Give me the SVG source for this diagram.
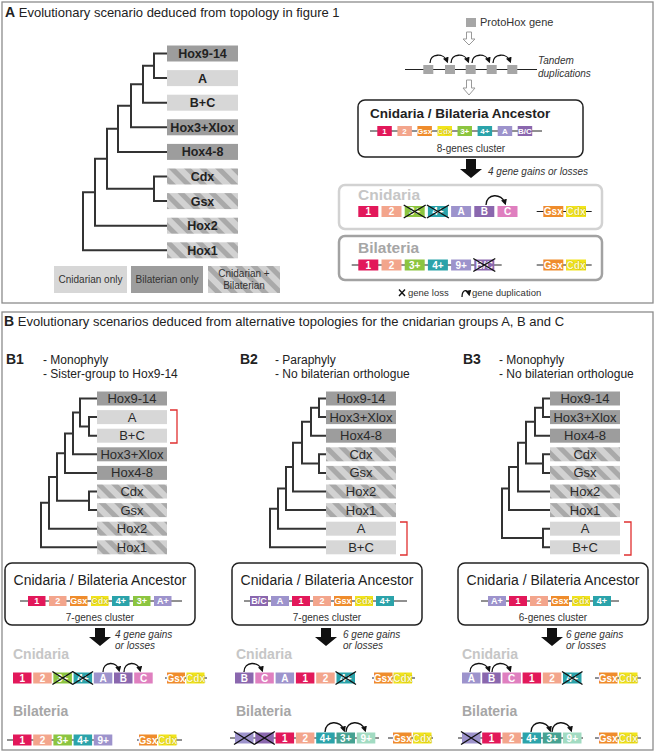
<svg xmlns="http://www.w3.org/2000/svg" width="656" height="753" viewBox="0 0 656 753">
<style>
text{font-family:"Liberation Sans",Arial,sans-serif}
.panel{fill:none;stroke:#8c8c8c;stroke-width:1.3}
.ttl{font-size:13px;fill:#222}
.tl{fill:none;stroke:#333;stroke-width:2}
.dk{fill:#9d9d9d}.lt{fill:#d7d7d7}.sp{fill:url(#st)}
.ta{font-size:12.5px;font-weight:bold;fill:#222;text-anchor:middle}
.tb{font-size:13px;fill:#2a2a2a;text-anchor:middle}
.lg{font-size:10px;fill:#333;text-anchor:middle}
.gt{fill:#fff;font-weight:bold;text-anchor:middle;font-size:10px}
.gs{font-size:8px}.gb{font-size:9px}
.cx{fill:#fffbc8;stroke:#a89500;stroke-width:0.5;paint-order:stroke}
.k1{fill:#e2185a}.k2{fill:#f3a58c}.kg{fill:#ef8c2c}.kc{fill:#f1e41c}.k3{fill:#8cc540}.k4{fill:#2ba3aa}.ka{fill:#9d93cc}.kb{fill:#8a67ae}.kC{fill:#df7fbf}.k3b{fill:#46a292}.k9b{fill:#a2dbc2}
.ln{stroke:#222;stroke-width:1}
.x{stroke:#111;stroke-width:1.4}
.arc{fill:none;stroke:#111;stroke-width:1.3;marker-end:url(#ah)}
.abox{fill:#fff;stroke:#222;stroke-width:1.5}
.big{fill:#111}
.hol{fill:#fff;stroke:#999;stroke-width:1}
.it{font-size:10px;font-style:italic;fill:#333}
.sm{font-size:10px;fill:#333;text-anchor:middle}
.cn{font-weight:bold;fill:#c6c6c6}
.bi{font-weight:bold;fill:#a6a6a6}
.br{fill:none;stroke:#e03030;stroke-width:1.3}
.sub{font-size:12px;fill:#222}
.lab{font-size:14px;font-weight:bold;fill:#222}
</style>
<defs>
<pattern id="st" patternUnits="userSpaceOnUse" width="11" height="11" patternTransform="rotate(-45)">
<rect width="11" height="11" fill="#d2d2d2"/><rect width="5" height="11" fill="#a9a9a9"/>
</pattern>
<marker id="ah" viewBox="0 0 10 10" refX="6" refY="5" markerWidth="6" markerHeight="6" orient="auto" markerUnits="userSpaceOnUse"><path d="M0,0 L10,5 L0,10 z" fill="#111"/></marker>
</defs>
<rect width="656" height="753" fill="#fff"/>

<!-- Panel A -->
<rect class="panel" x="2" y="2" width="651" height="301"/>
<text class="ttl" x="5" y="17"><tspan font-weight="bold" font-size="14">A</tspan> Evolutionary scenario deduced from topology in figure 1</text>

<g id="connectors">
<g id="treeA">
<path class="tl" d="M167,53.5 H154 V78.1 H167 M154,65.8 H143 V102.7 H167 M143,84.25 H131 V127.3 H167 M131,105.8 H118 V151.9 H167 M167,176.5 H154 V201.1 H167 M118,128.85 H107 V188.8 H154 M107,158.8 H95 V225.7 H167 M95,192.25 H83 V250.3 H167"/>
</g>
<g id="treeB1">
<path class="tl" d="M97,417.1 H89 V435.7 H97 M97,398.5 H80 V426.4 H89 M80,412.45 H73 V454.3 H97 M73,433.4 H65 V472.9 H97 M97,491.5 H89 V510.1 H97 M65,453.15 H57 V500.8 H89 M57,477 H49 V528.7 H97 M49,502.85 H41 V547.3 H97"/>
</g>
<g id="treeB2">
<path class="tl" d="M326,398.5 H319 V417.1 H326 M319,407.8 H311 V435.7 H326 M326,454.3 H319 V472.9 H326 M311,421.75 H302 V463.6 H319 M302,442.7 H293 V491.5 H326 M293,467.1 H286 V510.1 H326 M286,488.6 H278 V528.7 H326 M278,508.65 H270 V547.3 H326"/>
</g>
<g id="treeB3">
<path class="tl" d="M550,398.5 H543 V417.1 H550 M543,407.8 H535 V435.7 H550 M550,454.3 H543 V472.9 H550 M535,421.75 H526 V463.6 H543 M526,442.7 H518 V491.5 H550 M518,467.1 H509 V510.1 H550 M550,528.7 H543 V547.3 H550 M509,488.6 H502 V538 H543"/>
</g>
<g id="arrows">
<polygon class="hol" points="466.5,32 471.5,32 471.5,39 475,39 469,45 463,39 466.5,39"/>
<polygon class="hol" points="466.5,80 471.5,80 471.5,88 475,88 469,95 463,88 466.5,88"/>
<polygon class="big" points="466,159 476,159 476,169 482,169 471,178 460,169 466,169"/>
<polygon class="big" points="95,628 105,628 105,637 111,637 100,646 89,637 95,637"/>
<polygon class="big" points="321,628 331,628 331,637 337,637 326,646 315,637 321,637"/>
<polygon class="big" points="547,628 557,628 557,637 563,637 552,646 541,637 547,637"/>
</g>
</g>

<g id="nodesA">
<g id="a-hox9"><rect class="dk" x="167" y="45.5" width="71" height="16"/><text class="ta" x="202.5" y="58">Hox9-14</text></g>
<g id="a-A"><rect class="lt" x="167" y="70.1" width="71" height="16"/><text class="ta" x="202.5" y="82.6">A</text></g>
<g id="a-BC"><rect class="lt" x="167" y="94.7" width="71" height="16"/><text class="ta" x="202.5" y="107.2">B+C</text></g>
<g id="a-hox3"><rect class="dk" x="167" y="119.3" width="71" height="16"/><text class="ta" x="202.5" y="131.8">Hox3+Xlox</text></g>
<g id="a-hox4"><rect class="dk" x="167" y="143.9" width="71" height="16"/><text class="ta" x="202.5" y="156.4">Hox4-8</text></g>
<g id="a-cdx"><rect class="sp" x="167" y="168.5" width="71" height="16"/><text class="ta" x="202.5" y="181">Cdx</text></g>
<g id="a-gsx"><rect class="sp" x="167" y="193.1" width="71" height="16"/><text class="ta" x="202.5" y="205.6">Gsx</text></g>
<g id="a-hox2"><rect class="sp" x="167" y="217.7" width="71" height="16"/><text class="ta" x="202.5" y="230.2">Hox2</text></g>
<g id="a-hox1"><rect class="sp" x="167" y="242.3" width="71" height="16"/><text class="ta" x="202.5" y="254.8">Hox1</text></g>
</g>

<g id="legendA">
<rect class="lt" x="54" y="266" width="73" height="27"/><text class="lg" x="90.5" y="283">Cnidarian only</text>
<rect class="dk" x="131" y="266" width="72" height="27"/><text class="lg" x="167" y="283">Bilaterian only</text>
<rect class="sp" x="208" y="266" width="72" height="27"/><text class="lg" x="244" y="277">Cnidarian +</text><text class="lg" x="244" y="289">Bilaterian</text>
</g>

<g id="protohox">
<rect x="466" y="18" width="10" height="9" fill="#a6a6a6"/>
<text x="480" y="26" font-size="11" fill="#333">ProtoHox gene</text>
<line class="ln" x1="405" y1="69.5" x2="537" y2="69.5"/>
<rect x="423.3" y="65" width="10" height="9" fill="#a6a6a6"/>
<rect x="445" y="65" width="10" height="9" fill="#a6a6a6"/>
<rect x="465.7" y="65" width="10" height="9" fill="#a6a6a6"/>
<rect x="486.7" y="65" width="10" height="9" fill="#a6a6a6"/>
<rect x="507.3" y="65" width="10" height="9" fill="#a6a6a6"/>
<path class="arc" d="M430,63 C430,53 444,53 447,61"/>
<path class="arc" d="M451,63 C451,53 465,53 468,61"/>
<path class="arc" d="M472,63 C472,53 486,53 489,61"/>
<path class="arc" d="M493,63 C493,53 507,53 510,61"/>
<text class="it" x="538" y="64" font-size="11">Tandem</text>
<text class="it" x="538" y="77" font-size="11">duplications</text>
</g>

<g id="a-ancestor">
<rect class="abox" x="358" y="100" width="225" height="57" rx="7"/>
<text x="370" y="118" font-size="13.5" font-weight="bold" fill="#222">Cnidaria / Bilateria Ancestor</text>
<line class="ln" x1="370" y1="131" x2="542" y2="131"/>
<rect class="k1" x="377.3" y="126" width="14.5" height="10"/><text class="gt gs" x="384.5" y="134">1</text>
<rect class="k2" x="397.4" y="126" width="14.5" height="10"/><text class="gt gs" x="404.6" y="134">2</text>
<rect class="kg" x="417.4" y="126" width="14.5" height="10"/><text class="gt gs" x="424.6" y="134">Gsx</text>
<rect class="kc" x="437.5" y="126" width="14.5" height="10"/><text class="gt gs cx" x="444.7" y="134">Cdx</text>
<rect class="k3" x="457.5" y="126" width="14.5" height="10"/><text class="gt gs" x="464.7" y="134">3+</text>
<rect class="k4" x="477.6" y="126" width="14.5" height="10"/><text class="gt gs" x="484.8" y="134">4+</text>
<rect class="ka" x="497.7" y="126" width="14.5" height="10"/><text class="gt gs" x="504.9" y="134">A</text>
<rect class="kb" x="517.7" y="126" width="14.5" height="10"/><text class="gt gs" x="524.9" y="134">B/C</text>
<text class="sm" x="471" y="152">8-genes cluster</text>
</g>
<text class="it" x="488" y="175">4 gene gains or losses</text>

<g id="a-cnidaria">
<rect x="339" y="185" width="263" height="44" rx="6" fill="none" stroke="#d2d2d2" stroke-width="2.5"/>
<text class="cn" x="358" y="200" font-size="15.5">Cnidaria</text>
<rect class="k1" x="358.3" y="206" width="20" height="11"/><text class="gt" x="368.3" y="215">1</text>
<rect class="k2" x="381.5" y="206" width="20" height="11"/><text class="gt" x="391.5" y="215">2</text>
<rect class="k3" x="404.7" y="206" width="20" height="11"/><text class="gt" x="414.7" y="215">3+</text>
<rect class="k4" x="427.9" y="206" width="20" height="11"/><text class="gt" x="437.9" y="215">4+</text>
<rect class="ka" x="451.1" y="206" width="20" height="11"/><text class="gt" x="461.1" y="215">A</text>
<rect class="kb" x="474.3" y="206" width="20" height="11"/><text class="gt" x="484.3" y="215">B</text>
<rect class="kC" x="497.5" y="206" width="20" height="11"/><text class="gt" x="507.5" y="215">C</text>
<path class="x" d="M403.7,205 L425.7,218 M425.7,205 L403.7,218 M426.9,205 L448.9,218 M448.9,205 L426.9,218"/>
<path class="arc" d="M486,205 C486,193 502,193 505,203"/>
<line class="ln" x1="536.7" y1="211.5" x2="591.7" y2="211.5"/>
<rect class="kg" x="543.3" y="206" width="20" height="11"/><text class="gt" x="553.3" y="215">Gsx</text>
<rect class="kc" x="566" y="206" width="20" height="11"/><text class="gt cx" x="576" y="215">Cdx</text>
</g>

<g id="a-bilateria">
<rect x="339" y="236" width="263" height="44" rx="6" fill="none" stroke="#a2a2a2" stroke-width="2.5"/>
<text class="bi" x="358" y="253" font-size="15.5">Bilateria</text>
<line class="ln" x1="351.7" y1="265" x2="501.7" y2="265"/>
<rect class="k1" x="358.3" y="259.5" width="20" height="11"/><text class="gt" x="368.3" y="268.5">1</text>
<rect class="k2" x="381.5" y="259.5" width="20" height="11"/><text class="gt" x="391.5" y="268.5">2</text>
<rect class="k3" x="404.7" y="259.5" width="20" height="11"/><text class="gt" x="414.7" y="268.5">3+</text>
<rect class="k4" x="427.9" y="259.5" width="20" height="11"/><text class="gt" x="437.9" y="268.5">4+</text>
<rect class="ka" x="451.1" y="259.5" width="20" height="11"/><text class="gt" x="461.1" y="268.5">9+</text>
<rect class="kb" x="474.3" y="259.5" width="20" height="11"/><text class="gt" x="484.3" y="268.5">B/C</text>
<path class="x" d="M473.3,258.5 L495.3,271.5 M495.3,258.5 L473.3,271.5"/>
<line class="ln" x1="536.7" y1="265" x2="591.7" y2="265"/>
<rect class="kg" x="543.3" y="259.5" width="20" height="11"/><text class="gt" x="553.3" y="268.5">Gsx</text>
<rect class="kc" x="566" y="259.5" width="20" height="11"/><text class="gt cx" x="576" y="268.5">Cdx</text>
</g>

<g id="a-legend2">
<path class="x" d="M399,289.5 L405,296 M405,289.5 L399,296"/>
<text x="408" y="296" font-size="9.5" fill="#333">gene loss</text>
<path class="arc" d="M462,297 C462,289 468,289 469,294"/>
<text x="472" y="296" font-size="9.5" fill="#333">gene duplication</text>
</g>

<!-- Panel B -->
<rect class="panel" x="2" y="312" width="651" height="438"/>
<text class="ttl" x="4" y="326"><tspan font-weight="bold" font-size="14">B</tspan> Evolutionary scenarios deduced from alternative topologies for the cnidarian groups A, B and C</text>

<text class="lab" x="6" y="364">B1</text>
<text class="sub" x="43" y="364">- Monophyly</text>
<text class="sub" x="43" y="378">- Sister-group to Hox9-14</text>
<text class="lab" x="240" y="364">B2</text>
<text class="sub" x="275" y="364">- Paraphyly</text>
<text class="sub" x="275" y="378">- No bilaterian orthologue</text>
<text class="lab" x="463" y="364">B3</text>
<text class="sub" x="499" y="364">- Monophyly</text>
<text class="sub" x="499" y="378">- No bilaterian orthologue</text>

<g id="nodesB1">
<g id="b1-hox9"><rect class="dk" x="97" y="391.5" width="70" height="14"/><text class="tb" x="132" y="403">Hox9-14</text></g>
<g id="b1-A"><rect class="lt" x="97" y="410.1" width="70" height="14"/><text class="tb" x="132" y="421.6">A</text></g>
<g id="b1-BC"><rect class="lt" x="97" y="428.7" width="70" height="14"/><text class="tb" x="132" y="440.2">B+C</text></g>
<g id="b1-hox3"><rect class="dk" x="97" y="447.3" width="70" height="14"/><text class="tb" x="132" y="458.8">Hox3+Xlox</text></g>
<g id="b1-hox4"><rect class="dk" x="97" y="465.9" width="70" height="14"/><text class="tb" x="132" y="477.4">Hox4-8</text></g>
<g id="b1-cdx"><rect class="sp" x="97" y="484.5" width="70" height="14"/><text class="tb" x="132" y="496">Cdx</text></g>
<g id="b1-gsx"><rect class="sp" x="97" y="503.1" width="70" height="14"/><text class="tb" x="132" y="514.6">Gsx</text></g>
<g id="b1-hox2"><rect class="sp" x="97" y="521.7" width="70" height="14"/><text class="tb" x="132" y="533.2">Hox2</text></g>
<g id="b1-hox1"><rect class="sp" x="97" y="540.3" width="70" height="14"/><text class="tb" x="132" y="551.8">Hox1</text></g>
<path class="br" d="M170,410 H177 V443 H170"/>
</g>

<g id="nodesB2">
<g id="b2-hox9"><rect class="dk" x="326" y="391.5" width="70" height="14"/><text class="tb" x="361" y="403">Hox9-14</text></g>
<g id="b2-hox3"><rect class="dk" x="326" y="410.1" width="70" height="14"/><text class="tb" x="361" y="421.6">Hox3+Xlox</text></g>
<g id="b2-hox4"><rect class="dk" x="326" y="428.7" width="70" height="14"/><text class="tb" x="361" y="440.2">Hox4-8</text></g>
<g id="b2-cdx"><rect class="sp" x="326" y="447.3" width="70" height="14"/><text class="tb" x="361" y="458.8">Cdx</text></g>
<g id="b2-gsx"><rect class="sp" x="326" y="465.9" width="70" height="14"/><text class="tb" x="361" y="477.4">Gsx</text></g>
<g id="b2-hox2"><rect class="sp" x="326" y="484.5" width="70" height="14"/><text class="tb" x="361" y="496">Hox2</text></g>
<g id="b2-hox1"><rect class="sp" x="326" y="503.1" width="70" height="14"/><text class="tb" x="361" y="514.6">Hox1</text></g>
<g id="b2-A"><rect class="lt" x="326" y="521.7" width="70" height="14"/><text class="tb" x="361" y="533.2">A</text></g>
<g id="b2-BC"><rect class="lt" x="326" y="540.3" width="70" height="14"/><text class="tb" x="361" y="551.8">B+C</text></g>
<path class="br" d="M400,522 H407 V555 H400"/>
</g>

<g id="nodesB3">
<g id="b3-hox9"><rect class="dk" x="550" y="391.5" width="70" height="14"/><text class="tb" x="585" y="403">Hox9-14</text></g>
<g id="b3-hox3"><rect class="dk" x="550" y="410.1" width="70" height="14"/><text class="tb" x="585" y="421.6">Hox3+Xlox</text></g>
<g id="b3-hox4"><rect class="dk" x="550" y="428.7" width="70" height="14"/><text class="tb" x="585" y="440.2">Hox4-8</text></g>
<g id="b3-cdx"><rect class="sp" x="550" y="447.3" width="70" height="14"/><text class="tb" x="585" y="458.8">Cdx</text></g>
<g id="b3-gsx"><rect class="sp" x="550" y="465.9" width="70" height="14"/><text class="tb" x="585" y="477.4">Gsx</text></g>
<g id="b3-hox2"><rect class="sp" x="550" y="484.5" width="70" height="14"/><text class="tb" x="585" y="496">Hox2</text></g>
<g id="b3-hox1"><rect class="sp" x="550" y="503.1" width="70" height="14"/><text class="tb" x="585" y="514.6">Hox1</text></g>
<g id="b3-A"><rect class="lt" x="550" y="521.7" width="70" height="14"/><text class="tb" x="585" y="533.2">A</text></g>
<g id="b3-BC"><rect class="lt" x="550" y="540.3" width="70" height="14"/><text class="tb" x="585" y="551.8">B+C</text></g>
<path class="br" d="M624,522 H631 V555 H624"/>
</g>

<!-- B1 scenario -->
<g id="b1-ancestor">
<rect class="abox" x="5" y="563" width="190" height="62" rx="7"/>
<text x="100" y="585" font-size="14" fill="#222" text-anchor="middle">Cnidaria / Bilateria Ancestor</text>
<line class="ln" x1="20" y1="601" x2="182" y2="601"/>
<rect class="k1" x="28" y="596" width="17.5" height="10"/><text class="gt gb" x="36.8" y="604.3">1</text>
<rect class="k2" x="49" y="596" width="17.5" height="10"/><text class="gt gb" x="57.8" y="604.3">2</text>
<rect class="kg" x="70" y="596" width="17.5" height="10"/><text class="gt gb" x="78.8" y="604.3">Gsx</text>
<rect class="kc" x="91" y="596" width="17.5" height="10"/><text class="gt gb cx" x="99.8" y="604.3">Cdx</text>
<rect class="k4" x="112" y="596" width="17.5" height="10"/><text class="gt gb" x="120.8" y="604.3">4+</text>
<rect class="k3" x="133" y="596" width="17.5" height="10"/><text class="gt gb" x="141.8" y="604.3">3+</text>
<rect class="ka" x="154" y="596" width="17.5" height="10"/><text class="gt gb" x="162.8" y="604.3">A+</text>
<text class="sm" x="100" y="621">7-genes cluster</text>
</g>
<text class="it" x="115" y="638">4 gene gains</text>
<text class="it" x="115" y="649">or losses</text>
<g id="b1-cnidaria">
<text class="cn" x="13" y="659" font-size="14">Cnidaria</text>
<rect class="k1" x="13" y="672.5" width="18.5" height="11"/><text class="gt" x="22.3" y="681.5">1</text>
<rect class="k2" x="33.2" y="672.5" width="18.5" height="11"/><text class="gt" x="42.5" y="681.5">2</text>
<rect class="k3" x="53.4" y="672.5" width="18.5" height="11"/><text class="gt" x="62.7" y="681.5">3+</text>
<rect class="k4" x="73.6" y="672.5" width="18.5" height="11"/><text class="gt" x="82.9" y="681.5">4+</text>
<rect class="ka" x="93.8" y="672.5" width="18.5" height="11"/><text class="gt" x="103.1" y="681.5">A</text>
<rect class="kb" x="114" y="672.5" width="18.5" height="11"/><text class="gt" x="123.3" y="681.5">B</text>
<rect class="kC" x="134.2" y="672.5" width="18.5" height="11"/><text class="gt" x="143.5" y="681.5">C</text>
<path class="x" d="M52.4,671.5 L72.9,684.5 M72.9,671.5 L52.4,684.5 M72.6,671.5 L93.1,684.5 M93.1,671.5 L72.6,684.5"/>
<path class="arc" d="M103,672 C103,661 117,661 119,670"/>
<path class="arc" d="M124,672 C124,661 138,661 140,670"/>
<line class="ln" x1="165" y1="678" x2="207" y2="678"/>
<rect class="kg" x="167" y="672.5" width="18" height="11"/><text class="gt" x="176" y="681.5">Gsx</text>
<rect class="kc" x="186.5" y="672.5" width="18" height="11"/><text class="gt cx" x="195.5" y="681.5">Cdx</text>
</g>
<g id="b1-bilateria">
<text class="bi" x="13" y="716" font-size="14">Bilateria</text>
<line class="ln" x1="7" y1="740" x2="110" y2="740"/>
<rect class="k1" x="13" y="734.5" width="18.5" height="11"/><text class="gt" x="22.3" y="743.5">1</text>
<rect class="k2" x="33.2" y="734.5" width="18.5" height="11"/><text class="gt" x="42.5" y="743.5">2</text>
<rect class="k3" x="53.4" y="734.5" width="18.5" height="11"/><text class="gt" x="62.7" y="743.5">3+</text>
<rect class="k4" x="73.6" y="734.5" width="18.5" height="11"/><text class="gt" x="82.9" y="743.5">4+</text>
<rect class="ka" x="93.8" y="734.5" width="18.5" height="11"/><text class="gt" x="103.1" y="743.5">9+</text>
<line class="ln" x1="137" y1="740" x2="182" y2="740"/>
<rect class="kg" x="139" y="734.5" width="18" height="11"/><text class="gt" x="148" y="743.5">Gsx</text>
<rect class="kc" x="158.5" y="734.5" width="18" height="11"/><text class="gt cx" x="167.5" y="743.5">Cdx</text>
</g>

<!-- B2 scenario -->
<g id="b2-ancestor">
<rect class="abox" x="232" y="563" width="190" height="62" rx="7"/>
<text x="327" y="585" font-size="14" fill="#222" text-anchor="middle">Cnidaria / Bilateria Ancestor</text>
<line class="ln" x1="244" y1="601" x2="407" y2="601"/>
<rect class="kb" x="250" y="596" width="18" height="10"/><text class="gt gb" x="259" y="604.3">B/C</text>
<rect class="ka" x="271" y="596" width="18" height="10"/><text class="gt gb" x="280" y="604.3">A</text>
<rect class="k1" x="292" y="596" width="18" height="10"/><text class="gt gb" x="301" y="604.3">1</text>
<rect class="k2" x="313" y="596" width="18" height="10"/><text class="gt gb" x="322" y="604.3">2</text>
<rect class="kg" x="334" y="596" width="18" height="10"/><text class="gt gb" x="343" y="604.3">Gsx</text>
<rect class="kc" x="355" y="596" width="18" height="10"/><text class="gt gb cx" x="364" y="604.3">Cdx</text>
<rect class="k4" x="376" y="596" width="18" height="10"/><text class="gt gb" x="385" y="604.3">4+</text>
<text class="sm" x="327" y="621">7-genes cluster</text>
</g>
<text class="it" x="343" y="638">6 gene gains</text>
<text class="it" x="343" y="649">or losses</text>
<g id="b2-cnidaria">
<text class="cn" x="236" y="659" font-size="14">Cnidaria</text>
<rect class="kb" x="235" y="672.5" width="18.5" height="11"/><text class="gt" x="244.3" y="681.5">B</text>
<rect class="kC" x="255.3" y="672.5" width="18.5" height="11"/><text class="gt" x="264.6" y="681.5">C</text>
<rect class="ka" x="275.6" y="672.5" width="18.5" height="11"/><text class="gt" x="284.9" y="681.5">A</text>
<rect class="k1" x="295.9" y="672.5" width="18.5" height="11"/><text class="gt" x="305.2" y="681.5">1</text>
<rect class="k2" x="316.2" y="672.5" width="18.5" height="11"/><text class="gt" x="325.5" y="681.5">2</text>
<rect class="k4" x="336.5" y="672.5" width="18.5" height="11"/><text class="gt" x="345.8" y="681.5">4+</text>
<path class="x" d="M335.5,671.5 L356,684.5 M356,671.5 L335.5,684.5"/>
<path class="arc" d="M244,672 C244,661 259,661 262,670"/>
<line class="ln" x1="372" y1="678" x2="415" y2="678"/>
<rect class="kg" x="374" y="672.5" width="18.5" height="11"/><text class="gt" x="383.3" y="681.5">Gsx</text>
<rect class="kc" x="393.5" y="672.5" width="18.5" height="11"/><text class="gt cx" x="402.8" y="681.5">Cdx</text>
</g>
<g id="b2-bilateria">
<text class="bi" x="236" y="716" font-size="14">Bilateria</text>
<line class="ln" x1="230" y1="738" x2="379" y2="738"/>
<rect class="ka" x="235" y="732.5" width="18.5" height="11"/>
<rect class="kb" x="255.3" y="732.5" width="18.5" height="11"/>
<path class="x" d="M234,731.5 L254.5,744.5 M254.5,731.5 L234,744.5 M254.3,731.5 L274.8,744.5 M274.8,731.5 L254.3,744.5"/>
<rect class="k1" x="275.6" y="732.5" width="18.5" height="11"/><text class="gt" x="284.9" y="741.5">1</text>
<rect class="k2" x="295.9" y="732.5" width="18.5" height="11"/><text class="gt" x="305.2" y="741.5">2</text>
<rect class="k4" x="316.2" y="732.5" width="18.5" height="11"/><text class="gt" x="325.5" y="741.5">4+</text>
<rect class="k3b" x="336.5" y="732.5" width="18.5" height="11"/><text class="gt" x="345.8" y="741.5">3+</text>
<rect class="k9b" x="356.8" y="732.5" width="18.5" height="11"/><text class="gt" x="366.1" y="741.5">9+</text>
<path class="arc" d="M325,732 C325,720 341,720 344,730"/>
<path class="arc" d="M346,732 C346,720 362,720 365,730"/>
<line class="ln" x1="388" y1="738" x2="433" y2="738"/>
<rect class="kg" x="393" y="732.5" width="18.5" height="11"/><text class="gt" x="402.3" y="741.5">Gsx</text>
<rect class="kc" x="413" y="732.5" width="18.5" height="11"/><text class="gt cx" x="422.3" y="741.5">Cdx</text>
</g>

<!-- B3 scenario -->
<g id="b3-ancestor">
<rect class="abox" x="458" y="563" width="190" height="62" rx="7"/>
<text x="553" y="585" font-size="14" fill="#222" text-anchor="middle">Cnidaria / Bilateria Ancestor</text>
<line class="ln" x1="481" y1="601" x2="619" y2="601"/>
<rect class="ka" x="488" y="596" width="18" height="10"/><text class="gt gb" x="497" y="604.3">A+</text>
<rect class="k1" x="509" y="596" width="18" height="10"/><text class="gt gb" x="518" y="604.3">1</text>
<rect class="k2" x="530" y="596" width="18" height="10"/><text class="gt gb" x="539" y="604.3">2</text>
<rect class="kg" x="551" y="596" width="18" height="10"/><text class="gt gb" x="560" y="604.3">Gsx</text>
<rect class="kc" x="572" y="596" width="18" height="10"/><text class="gt gb cx" x="581" y="604.3">Cdx</text>
<rect class="k4" x="593" y="596" width="18" height="10"/><text class="gt gb" x="602" y="604.3">4+</text>
<text class="sm" x="553" y="621">6-genes cluster</text>
</g>
<text class="it" x="566" y="638">6 gene gains</text>
<text class="it" x="566" y="649">or losses</text>
<g id="b3-cnidaria">
<text class="cn" x="462" y="659" font-size="14">Cnidaria</text>
<rect class="ka" x="462" y="672.5" width="18.5" height="11"/><text class="gt" x="471.3" y="681.5">A</text>
<rect class="kb" x="482.2" y="672.5" width="18.5" height="11"/><text class="gt" x="491.5" y="681.5">B</text>
<rect class="kC" x="502.4" y="672.5" width="18.5" height="11"/><text class="gt" x="511.7" y="681.5">C</text>
<rect class="k1" x="522.6" y="672.5" width="18.5" height="11"/><text class="gt" x="531.9" y="681.5">1</text>
<rect class="k2" x="542.8" y="672.5" width="18.5" height="11"/><text class="gt" x="552.1" y="681.5">2</text>
<rect class="k4" x="563" y="672.5" width="18.5" height="11"/><text class="gt" x="572.3" y="681.5">4+</text>
<path class="x" d="M562,671.5 L582.5,684.5 M582.5,671.5 L562,684.5"/>
<path class="arc" d="M470,672 C470,661 486,661 489,670"/>
<path class="arc" d="M492,672 C492,661 507,661 510,670"/>
<line class="ln" x1="595" y1="678" x2="641" y2="678"/>
<rect class="kg" x="599" y="672.5" width="18.5" height="11"/><text class="gt" x="608.3" y="681.5">Gsx</text>
<rect class="kc" x="619" y="672.5" width="18.5" height="11"/><text class="gt cx" x="628.3" y="681.5">Cdx</text>
</g>
<g id="b3-bilateria">
<text class="bi" x="462" y="716" font-size="14">Bilateria</text>
<line class="ln" x1="458" y1="738" x2="583" y2="738"/>
<rect class="ka" x="462" y="732.5" width="18.5" height="11"/>
<path class="x" d="M461,731.5 L481.5,744.5 M481.5,731.5 L461,744.5"/>
<rect class="k1" x="482.2" y="732.5" width="18.5" height="11"/><text class="gt" x="491.5" y="741.5">1</text>
<rect class="k2" x="502.4" y="732.5" width="18.5" height="11"/><text class="gt" x="511.7" y="741.5">2</text>
<rect class="k4" x="522.6" y="732.5" width="18.5" height="11"/><text class="gt" x="531.9" y="741.5">4+</text>
<rect class="k3b" x="542.8" y="732.5" width="18.5" height="11"/><text class="gt" x="552.1" y="741.5">3+</text>
<rect class="k9b" x="563" y="732.5" width="18.5" height="11"/><text class="gt" x="572.3" y="741.5">9+</text>
<path class="arc" d="M531,732 C531,720 547,720 550,730"/>
<path class="arc" d="M552,732 C552,720 568,720 571,730"/>
<line class="ln" x1="595" y1="738" x2="641" y2="738"/>
<rect class="kg" x="599" y="732.5" width="18.5" height="11"/><text class="gt" x="608.3" y="741.5">Gsx</text>
<rect class="kc" x="619" y="732.5" width="18.5" height="11"/><text class="gt cx" x="628.3" y="741.5">Cdx</text>
</g>
</svg>
